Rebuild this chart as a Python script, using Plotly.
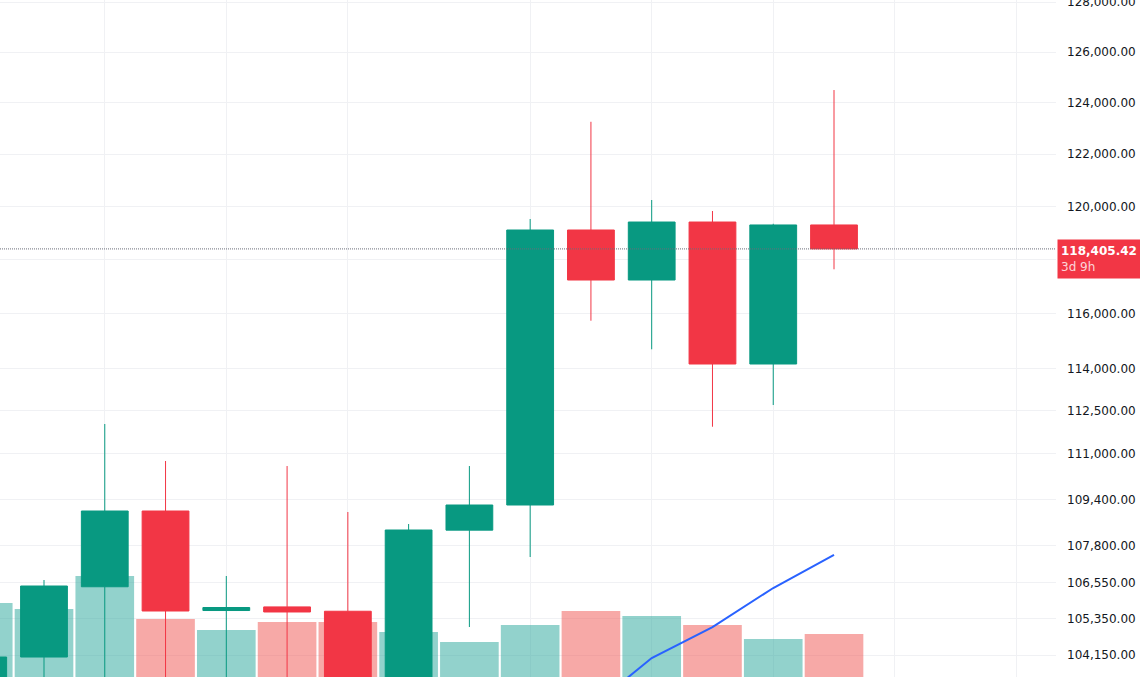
import numpy as np
import plotly.graph_objects as go

# ---- data ----
period = list(range(-1, 14))
opens  = [100600, 104084, 106420, 108997, 105624, 105745, 105600, 101500, 108340, 109204, 119115, 117248, 119416, 114178, 119305]
highs  = [104100, 106647, 112035, 110733, 106782, 110557, 108963, 108550, 110557, 119530, 123258, 120249, 119832, 119350, 124500]
lows   = [100000, 102700, 102900, 102800, 102600, 103000, 100800, 100900, 105075, 107425, 115750, 114710, 111938, 112708, 117646]
closes = [104084, 106445, 108997, 105608, 105725, 105575, 101500, 108345, 109204, 119115, 117248, 119416, 114178, 119305, 118405.42]
volumes = [74, 68, 101, 58, 47, 55, 55, 45, 35, 52, 66, 61, 52, 38, 43]

ma_period = [9, 10, 11, 12, 13]
ma_values = [102434, 104051, 105075, 106378, 107494]

price_ticks = [128000, 126000, 124000, 122000, 120000, 118000, 116000, 114000, 112500,
               111000, 109400, 107800, 106550, 105350, 104150]
hidden_tick = 118000
grid_periods = [1, 3, 5, 8, 10, 12, 14, 16]
last_price = 118405.42
countdown = "3d 9h"

UP = "#089981"
DOWN = "#F23645"
VUP = "rgba(38,166,154,0.5)"
VDOWN = "rgba(239,83,80,0.5)"
GRID = "#F0F1F4"

vol_colors = [VUP if c >= o else VDOWN for o, c in zip(opens, closes)]

fig = go.Figure()

fig.add_trace(go.Bar(
    x=period, y=volumes, marker=dict(color=vol_colors, line=dict(width=0)),
    width=0.965, yaxis="y", xaxis="x", showlegend=False, hoverinfo="skip"))

fig.add_trace(go.Candlestick(
    x=period, open=opens, high=highs, low=lows, close=closes,
    increasing=dict(line=dict(color=UP, width=1), fillcolor=UP),
    decreasing=dict(line=dict(color=DOWN, width=1), fillcolor=DOWN),
    whiskerwidth=0, yaxis="y2", xaxis="x", showlegend=False))

fig.add_trace(go.Scatter(
    x=ma_period, y=ma_values, mode="lines", line=dict(color="#2962FF", width=2),
    yaxis="y2", showlegend=False, hoverinfo="skip"))

ticktext = ["" if v == hidden_tick else f"{v:,.2f}" for v in price_ticks]

y_lo, y_hi = 103429, 128092

fig.update_layout(
    width=1140, height=677, autosize=False,
    margin=dict(l=0, r=84, t=0, b=0, autoexpand=False),
    paper_bgcolor="white", plot_bgcolor="white",
    boxgap=0.23, boxgroupgap=0,
    font=dict(family="DejaVu Sans", size=12, color="#131722"),
    xaxis=dict(range=[-0.724, 16.653], tickvals=grid_periods, showticklabels=False,
               showgrid=True, gridcolor=GRID, gridwidth=1, zeroline=False,
               rangeslider=dict(visible=False), showline=False, ticks="", automargin=False),
    yaxis=dict(range=[0, 677], visible=False, showgrid=False, fixedrange=True, automargin=False),
    yaxis2=dict(type="log", overlaying="y", side="right",
                range=[np.log10(y_lo), np.log10(y_hi)],
                tickvals=price_ticks, ticktext=ticktext,
                showgrid=True, gridcolor=GRID, gridwidth=1, zeroline=False,
                showline=False, ticks="", ticklabelstandoff=10,
                ticklabeloverflow="allow", automargin=False,
                tickfont=dict(family="DejaVu Sans", size=12, color="#131722")),
)

fig.add_shape(type="line", xref="paper", x0=0, x1=1, yref="y2", y0=last_price, y1=last_price,
              line=dict(color="#6A6D78", width=1, dash="1px,1px"), layer="above")

fig.add_annotation(
    xref="paper", x=1, xanchor="left", xshift=1,
    yref="y2", y=np.log10(last_price), yanchor="top", yshift=10,
    text=f"<b>{last_price:,.2f}</b><br><span style='color:rgba(255,255,255,0.8)'>{countdown}</span>",
    showarrow=False, align="left", bgcolor=DOWN, borderpad=3, width=77, height=32,
    font=dict(family="DejaVu Sans", size=12, color="white"))

fig.write_html("out.html", config={"displayModeBar": False},
               post_script="document.body.style.margin='0';document.body.style.overflow='hidden';")
